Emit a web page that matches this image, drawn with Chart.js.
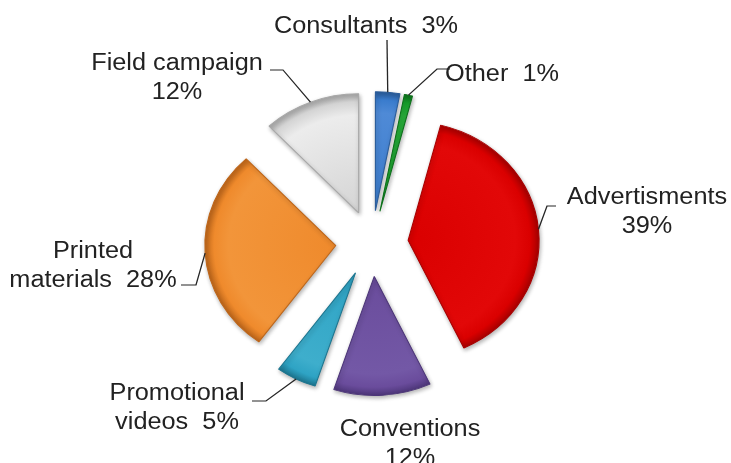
<!DOCTYPE html>
<html>
<head>
<meta charset="utf-8">
<title>Marketing budget split</title>
<script src="https://cdn.jsdelivr.net/npm/chart.js@4/dist/chart.umd.min.js"></script>
<style>
  html, body { margin: 0; padding: 0; background: #ffffff; }
  #wrap { width: 731px; height: 463px; }
  canvas { display: block; }
</style>
</head>
<body>
<div id="wrap"><canvas id="budget" width="731" height="463"></canvas></div>
<script>
// ---- data ----
const categories = ['Consultants', 'Other', 'Advertisments', 'Conventions',
                    'Promotional videos', 'Printed materials', 'Field campaign'];
const shares = [3, 1, 39, 12, 5, 28, 12];   // percent of budget

// ---- styles ----
const baseColors  = ['#3a7ccd', '#16a02a', '#da0000', '#6a4c9c', '#2ea3c4', '#ef8a2c', '#d4d4d4'];
const lightColors = ['#4f8ad6', '#28ab3a', '#e20808', '#7358a6', '#3eaecc', '#f2953a', '#ececec'];
const darkColors  = ['#2a5c9a', '#0d701b', '#a80000', '#4d3679', '#1d7690', '#be661a', '#a8a8a8'];

const STRETCH_X = 1.1;      // whole drawing is widened horizontally
const PIE_RADIUS = 119;
const EXPLODE = 33;         // distance each slice is pulled away from the centre
const FONT = '23px "Liberation Sans", Arial, sans-serif';
const LINE_GAP = 28.5;

// label layout: text centre (page px), how to wrap, leader elbow points (page px)
const labelLayout = [
  { cx: 366, cy: 25,  wrap: 'one',  leader: [[387, 40]] },
  { cx: 502, cy: 73,  wrap: 'one',  leader: [[450, 69], [437, 69]] },
  { cx: 647, cy: 196, wrap: 'pct',  leader: [[556, 206], [547, 206]] },
  { cx: 410, cy: 428, wrap: 'pct',  leader: null },
  { cx: 177, cy: 392, wrap: 'word', leader: [[252, 401], [266, 401]] },
  { cx: 93,  cy: 250, wrap: 'word', leader: [[181, 285], [196, 285]] },
  { cx: 177, cy: 62,  wrap: 'pct',  leader: [[270, 70], [283, 70]] }
];

function labelLines(i) {
  const name = categories[i];
  const pct = shares[i] + '%';
  const mode = labelLayout[i].wrap;
  if (mode === 'one') return [name + '  ' + pct];
  if (mode === 'pct') return [name, pct];
  const sp = name.indexOf(' ');
  return [name.slice(0, sp), name.slice(sp + 1) + '  ' + pct];
}

function pieCentre(chart) {
  const a = chart.chartArea;
  return { x: (a.left + a.right) / 2, y: (a.top + a.bottom) / 2 };
}

function sliceFill(context) {
  const i = context.dataIndex;
  const chart = context.chart;
  if (!chart.chartArea) return baseColors[i];
  const c = pieCentre(chart);
  const g = chart.ctx.createRadialGradient(c.x, c.y, 0, c.x, c.y, PIE_RADIUS);
  g.addColorStop(0, baseColors[i]);
  g.addColorStop(0.82, lightColors[i]);
  g.addColorStop(0.93, baseColors[i]);
  g.addColorStop(1, darkColors[i]);
  return g;
}

// widen everything the chart paints
const stretchPlugin = {
  id: 'stretch',
  beforeDraw(chart) {
    chart.ctx.save();
    chart.ctx.scale(STRETCH_X, 1);
  },
  afterDraw(chart) {
    chart.ctx.restore();
  }
};

// draw the library's arcs pulled outward along their mid angle
const explodePlugin = {
  id: 'explode',
  beforeDatasetDraw(chart, args) {
    const ctx = chart.ctx;
    args.meta.data.forEach(arc => {
      const mid = (arc.startAngle + arc.endAngle) / 2;
      ctx.save();
      ctx.translate(Math.cos(mid) * EXPLODE, Math.sin(mid) * EXPLODE);
      ctx.shadowColor = 'rgba(0,0,0,0.3)';
      ctx.shadowBlur = 4;
      ctx.shadowOffsetX = 1;
      ctx.shadowOffsetY = 2;
      arc.draw(ctx);
      ctx.restore();
    });
    return false;
  }
};

// category labels with leader lines to the slice rims
const labelPlugin = {
  id: 'sliceLabels',
  afterDatasetsDraw(chart) {
    const ctx = chart.ctx;
    const arcs = chart.getDatasetMeta(0).data;
    ctx.save();
    ctx.font = FONT;
    ctx.fillStyle = '#222222';
    ctx.textAlign = 'center';
    ctx.textBaseline = 'alphabetic';
    ctx.strokeStyle = '#262626';
    ctx.lineWidth = 1.2;
    arcs.forEach((arc, i) => {
      const lay = labelLayout[i];
      const lines = labelLines(i);
      lines.forEach((t, k) => {
        ctx.fillText(t, lay.cx / STRETCH_X, lay.cy + 8 + k * LINE_GAP);
      });
      if (lay.leader) {
        const mid = (arc.startAngle + arc.endAngle) / 2;
        const reach = EXPLODE + arc.outerRadius;
        const ex = arc.x + Math.cos(mid) * reach;
        const ey = arc.y + Math.sin(mid) * reach;
        ctx.beginPath();
        lay.leader.forEach((p, k) => {
          const px = p[0] / STRETCH_X;
          if (k === 0) ctx.moveTo(px, p[1]); else ctx.lineTo(px, p[1]);
        });
        ctx.lineTo(ex, ey);
        ctx.stroke();
      }
    });
    ctx.restore();
  }
};

const pageCentreX = 372 / STRETCH_X;
const pageCentreY = 243.5;

new Chart(document.getElementById('budget'), {
  type: 'pie',
  data: {
    labels: categories,
    datasets: [{
      data: shares,
      backgroundColor: sliceFill,
      borderColor: darkColors,
      borderWidth: 1,
      radius: PIE_RADIUS
    }]
  },
  options: {
    responsive: false,
    devicePixelRatio: 1,
    animation: false,
    events: [],
    radius: PIE_RADIUS,
    layout: {
      padding: {
        left: 0,
        right: 731 - 2 * pageCentreX,
        top: 2 * pageCentreY - 463,
        bottom: 0
      }
    },
    plugins: {
      legend: { display: false },
      tooltip: { enabled: false }
    }
  },
  plugins: [stretchPlugin, explodePlugin, labelPlugin]
});
</script>
</body>
</html>
